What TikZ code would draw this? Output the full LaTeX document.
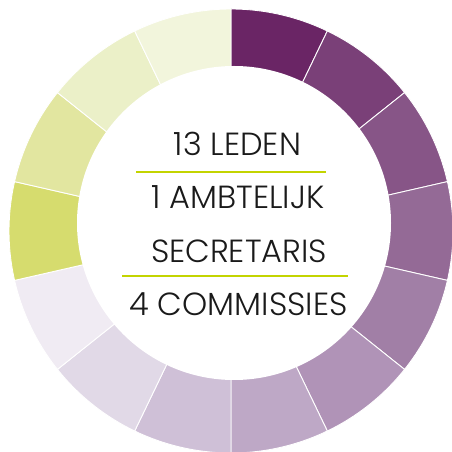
\documentclass[tikz,border=0pt]{standalone}
\usepackage{fontspec}
\setmainfont{Poppins Light}
\usepackage{tikz}
\definecolor{seg0}{HTML}{6A2565}
\definecolor{seg1}{HTML}{7A4078}
\definecolor{seg2}{HTML}{875587}
\definecolor{seg3}{HTML}{946A96}
\definecolor{seg4}{HTML}{A17FA6}
\definecolor{seg5}{HTML}{B093B7}
\definecolor{seg6}{HTML}{BEA8C6}
\definecolor{seg7}{HTML}{CFC0D7}
\definecolor{seg8}{HTML}{E1D9E7}
\definecolor{seg9}{HTML}{F0EBF3}
\definecolor{seg10}{HTML}{D6DC6E}
\definecolor{seg11}{HTML}{E2E6A0}
\definecolor{seg12}{HTML}{EBF0C8}
\definecolor{seg13}{HTML}{F2F5DC}
\definecolor{lijngroen}{HTML}{C3D400}
\definecolor{tekst}{HTML}{1A1A1A}

\begin{document}
\begin{tikzpicture}[x=1pt, y=1pt]
\useasboundingbox (0, 0) rectangle (452, 452);
\begin{scope}
\clip (0, 0) rectangle (452, 452);
\foreach \k in {0,...,13} {
  \pgfmathsetmacro{\a}{90 - \k*360/14}
  \pgfmathsetmacro{\b}{90 - (\k+1)*360/14}
  \draw [fill=seg\k, draw=white, line width=0.9pt] (231, 221) -- ++(\a:222) arc [radius=222, start angle=\a, end angle=\b] -- cycle;
}
\end{scope}
\fill [white] (234, 229) circle [radius=157];
\node [anchor=base, text=tekst, font=\fontsize{32}{32}\selectfont, inner sep=0] (leden) at (237.5, 296) {13 LEDEN};
\node [anchor=base, text=tekst, font=\fontsize{32}{32}\selectfont, inner sep=0] (ambtelijk) at (238, 243) {1 AMBTELIJK};
\node [anchor=base, text=tekst, font=\fontsize{32}{32}\selectfont, inner sep=0] (secretaris) at (239, 189) {SECRETARIS};
\node [anchor=base, text=tekst, font=\fontsize{32}{32}\selectfont, inner sep=0] (commissies) at (238.5, 136) {4 COMMISSIES};
\draw [lijngroen, line width=2.6pt] (136, 280) -- (326, 280);
\draw [lijngroen, line width=2.6pt] (122, 176) -- (348, 176);
\end{tikzpicture}
\end{document}
